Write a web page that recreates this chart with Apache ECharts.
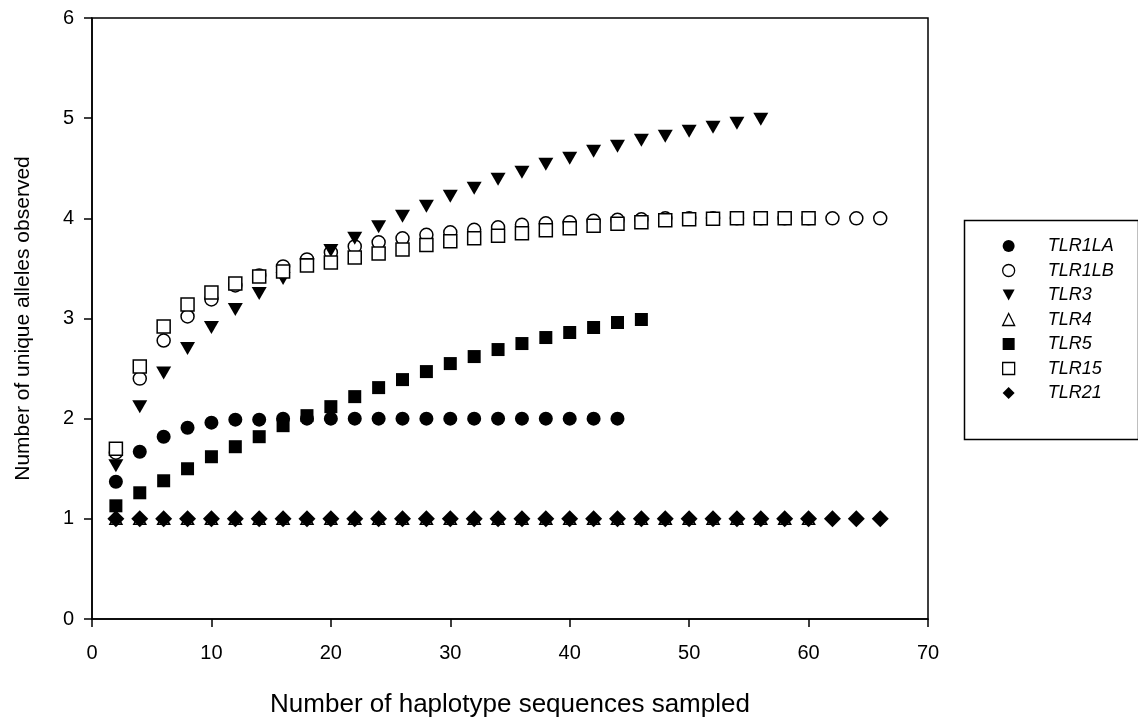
<!DOCTYPE html>
<html>
<head>
<meta charset="utf-8">
<script src="https://cdn.jsdelivr.net/npm/echarts@6/dist/echarts.min.js"></script>
<style>
html,body{margin:0;padding:0;background:#fff;}
#chart{width:1138px;height:726px;}
</style>
</head>
<body>
<div id="chart"></div>
<script>
// Sample sizes (number of haplotype sequences sampled)
const sampleSizes = [2,4,6,8,10,12,14,16,18,20,22,24,26,28,30,32,34,36,38,40,42,44,46,48,50,52,54,56,58,60,62,64,66];

const TLR1LA = [1.37,1.67,1.82,1.91,1.96,1.99,1.99,2.00,2.00,2.00,2.00,2.00,2.00,2.00,2.00,2.00,2.00,2.00,2.00,2.00,2.00,2.00];
const TLR1LB = [1.66,2.40,2.78,3.02,3.19,3.33,3.43,3.52,3.59,3.66,3.72,3.76,3.80,3.835,3.86,3.885,3.91,3.935,3.95,3.96,3.975,3.985,3.99,4.00,4.00,4.00,4.00,4.00,4.00,4.00,4.00,4.00,4.00];
const TLR3 = [1.53,2.12,2.455,2.70,2.91,3.09,3.25,3.40,3.54,3.68,3.80,3.915,4.02,4.12,4.22,4.30,4.39,4.46,4.54,4.60,4.67,4.72,4.78,4.82,4.87,4.91,4.95,4.99];
const TLR4 = [1,1,1,1,1,1,1,1,1,1,1,1,1,1,1,1,1,1,1,1,1,1,1,1,1,1,1,1,1,1];
const TLR5 = [1.13,1.26,1.38,1.50,1.62,1.72,1.82,1.93,2.03,2.12,2.22,2.31,2.39,2.47,2.55,2.62,2.69,2.75,2.81,2.86,2.91,2.96,2.99];
const TLR15 = [1.70,2.52,2.92,3.14,3.26,3.35,3.42,3.47,3.53,3.56,3.61,3.65,3.69,3.735,3.77,3.80,3.825,3.85,3.88,3.90,3.925,3.945,3.96,3.98,3.99,3.995,4.00,4.00,4.00,4.00];
const TLR21 = [1,1,1,1,1,1,1,1,1,1,1,1,1,1,1,1,1,1,1,1,1,1,1,1,1,1,1,1,1,1,1,1,1];

const xTicks = [0,10,20,30,40,50,60,70];
const yTicks = [0,1,2,3,4,5,6];

function pairs(vals){ return vals.map((v,i)=>[sampleSizes[i], v]); }

const FONT = '"Liberation Sans", Arial, sans-serif';
const filled = {color:'#000', borderColor:'#000', borderWidth:0, opacity:1};
const open = {color:'#fff', borderColor:'#000', borderWidth:1.5, opacity:1};
const DOWN_TRI = 'path://M0,0 L10,0 L5,9 Z';

const seriesDefs = [
  {name:'TLR1LA', data:TLR1LA, symbol:'circle', size:14, style:filled, rot:0, icon:'circle', lstyle:filled},
  {name:'TLR1LB', data:TLR1LB, symbol:'circle', size:13, style:open, rot:0, icon:'circle', lstyle:{color:'#fff', borderColor:'#000', borderWidth:1.3, opacity:1}},
  {name:'TLR3', data:TLR3, symbol:'triangle', size:[15,13], style:filled, rot:180, icon:DOWN_TRI, lstyle:filled},
  {name:'TLR4', data:TLR4, symbol:'triangle', size:[12,11], style:open, rot:0, icon:'triangle', lstyle:{color:'#fff', borderColor:'#000', borderWidth:1.3, opacity:1}},
  {name:'TLR5', data:TLR5, symbol:'rect', size:13, style:filled, rot:0, icon:'rect', lstyle:filled},
  {name:'TLR15', data:TLR15, symbol:'rect', size:13, style:open, rot:0, icon:'rect', lstyle:{color:'#fff', borderColor:'#000', borderWidth:1.3, opacity:1}},
  {name:'TLR21', data:TLR21, symbol:'diamond', size:17, style:filled, rot:0, icon:'diamond', lstyle:filled}
];

const chart = echarts.init(document.getElementById('chart'), null, {renderer:'canvas'});
chart.setOption({
  animation:false,
  backgroundColor:'#fff',
  textStyle:{fontFamily:FONT, color:'#000'},
  grid:{left:92, right:210, top:18, bottom:107, show:true, borderColor:'#000', borderWidth:1.5, backgroundColor:'transparent'},
  xAxis:{
    type:'value', min:0, max:70, interval:10,
    name:'Number of haplotype sequences sampled', nameLocation:'middle', nameGap:73,
    nameTextStyle:{fontSize:26, fontFamily:FONT, color:'#000'},
    axisLine:{show:true, lineStyle:{color:'#000', width:1.5}},
    axisTick:{show:true, length:8, lineStyle:{color:'#000', width:1.5}},
    axisLabel:{fontSize:20, fontFamily:FONT, color:'#000', margin:24,
      formatter:v=>xTicks.includes(v)?String(v):''},
    splitLine:{show:false}
  },
  yAxis:{
    type:'value', min:0, max:6, interval:1,
    name:'Number of unique alleles observed', nameLocation:'middle', nameGap:58,
    nameTextStyle:{fontSize:21, fontFamily:FONT, color:'#000'},
    axisLine:{show:true, lineStyle:{color:'#000', width:1.5}},
    axisTick:{show:true, length:8, lineStyle:{color:'#000', width:1.5}},
    axisLabel:{fontSize:20, fontFamily:FONT, color:'#000', margin:18,
      formatter:v=>yTicks.includes(v)?String(v):''},
    splitLine:{show:false}
  },
  graphic:[{type:'rect', left:962, top:218, shape:{width:174, height:219}, style:{fill:'none', stroke:'#000', lineWidth:1.5}, z:100}],
  legend:{
    orient:'vertical', left:1002, top:237, padding:0,
    itemWidth:12, itemHeight:12, itemGap:6.5,
    data:seriesDefs.map(s=>({name:s.name, icon:s.icon, itemStyle:s.lstyle})),
    textStyle:{fontSize:18, fontStyle:'italic', fontFamily:FONT, color:'#000', padding:[0,0,0,28]},
    selectedMode:false
  },
  series:seriesDefs.map(s=>({
    name:s.name, type:'scatter', data:pairs(s.data),
    symbol:s.symbol, symbolSize:s.size, symbolRotate:s.rot,
    itemStyle:s.style, emphasis:{disabled:true}
  }))
});
</script>
</body>
</html>
